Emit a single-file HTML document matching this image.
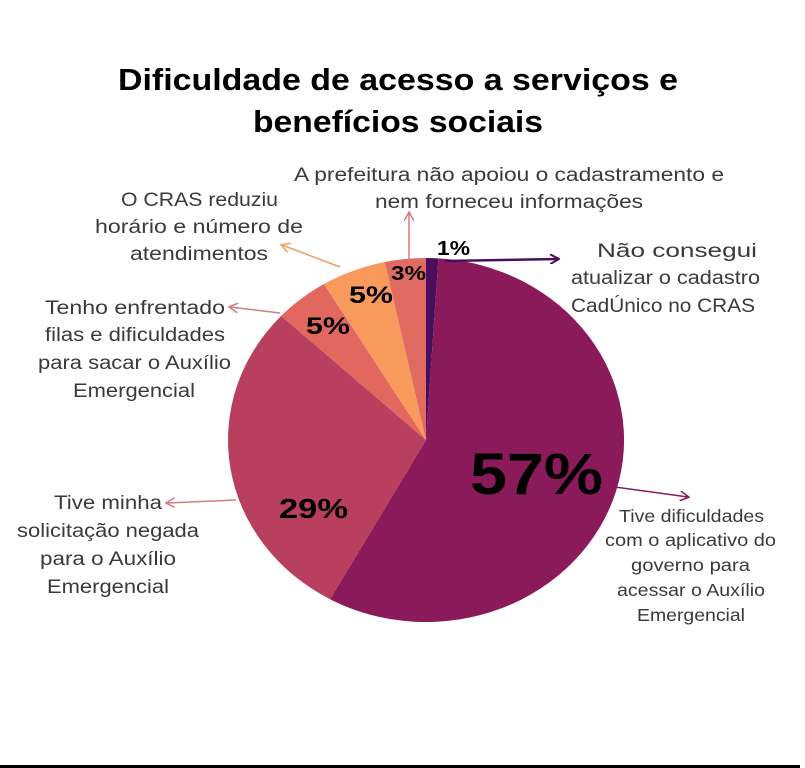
<!DOCTYPE html>
<html><head><meta charset="utf-8"><style>
html,body{margin:0;padding:0;background:#fff;}
svg{display:block;}
text{font-family:"Liberation Sans",sans-serif;}
.t{font-size:31px;font-weight:bold;fill:#000;}
.l{font-size:19px;fill:#3a3a3a;}
.s{font-size:17.5px;}
.p{font-weight:bold;fill:#000;}
</style></head><body>
<svg width="805" height="768" viewBox="0 0 805 768">
<defs>
<marker id="m1" markerWidth="10" markerHeight="10" refX="8" refY="5" orient="auto" markerUnits="userSpaceOnUse"><path d="M0,0 L9,5 L0,10" fill="none" stroke="#4a0e5c" stroke-width="2"/></marker>
<marker id="m2" markerWidth="10" markerHeight="10" refX="8" refY="5" orient="auto" markerUnits="userSpaceOnUse"><path d="M0,0 L9,5 L0,10" fill="none" stroke="#8b1a5b" stroke-width="1.5"/></marker>
<marker id="m3" markerWidth="10" markerHeight="10" refX="8" refY="5" orient="auto" markerUnits="userSpaceOnUse"><path d="M0,0 L9,5 L0,10" fill="none" stroke="#d97a80" stroke-width="1.5"/></marker>
<marker id="m4" markerWidth="10" markerHeight="10" refX="8" refY="5" orient="auto" markerUnits="userSpaceOnUse"><path d="M0,0 L9,5 L0,10" fill="none" stroke="#f79a5c" stroke-width="1.5"/></marker>
</defs>
<text class="t" x="118" y="90" textLength="560" lengthAdjust="spacingAndGlyphs">Dificuldade de acesso a serviços e</text>
<text class="t" x="253" y="132" textLength="290" lengthAdjust="spacingAndGlyphs">benefícios sociais</text>

<path d="M426,440 L426,258 A198,182 0 0 1 438.4,258.4 Z" fill="#4a0e5c"/>
<path d="M426,440 L438.4,258.4 A198,182 0 1 1 330,599.2 Z" fill="#8b1a5b"/>
<path d="M426,440 L330,599.2 A198,182 0 0 1 281.2,315.9 Z" fill="#b8405e"/>
<path d="M426,440 L281.2,315.9 A198,182 0 0 1 324,284 Z" fill="#e2685f"/>
<path d="M426,440 L324,284 A198,182 0 0 1 384.8,262 Z" fill="#f79a5c"/>
<path d="M426,440 L384.8,262 A198,182 0 0 1 426,258 Z" fill="#e06b60"/>

<text class="p" x="437" y="255" font-size="20" textLength="33" lengthAdjust="spacingAndGlyphs">1%</text>
<text class="p" x="391" y="280" font-size="20" textLength="35" lengthAdjust="spacingAndGlyphs">3%</text>
<text class="p" x="349" y="303" font-size="24" textLength="44" lengthAdjust="spacingAndGlyphs">5%</text>
<text class="p" x="306" y="334" font-size="24" textLength="44" lengthAdjust="spacingAndGlyphs">5%</text>
<text class="p" x="279" y="518" font-size="28" textLength="69" lengthAdjust="spacingAndGlyphs">29%</text>
<text class="p" x="470" y="494" font-size="58" textLength="133" lengthAdjust="spacingAndGlyphs">57%</text>

<line x1="445" y1="261" x2="558" y2="259" stroke="#4a0e5c" stroke-width="2.5" marker-end="url(#m1)"/>
<line x1="600" y1="485" x2="688" y2="497" stroke="#8b1a5b" stroke-width="1.5" marker-end="url(#m2)"/>
<line x1="236" y1="500" x2="167" y2="503" stroke="#d97a80" stroke-width="1.5" marker-end="url(#m3)"/>
<line x1="280" y1="313" x2="230" y2="307" stroke="#d97a80" stroke-width="1.5" marker-end="url(#m3)"/>
<line x1="340" y1="267" x2="282" y2="245" stroke="#f79a5c" stroke-width="1.5" marker-end="url(#m4)"/>
<line x1="409" y1="262" x2="409" y2="213" stroke="#d97a80" stroke-width="1.5" marker-end="url(#m3)"/>

<g class="l" lengthAdjust="spacingAndGlyphs">
<text x="294" y="181" textLength="430" lengthAdjust="spacingAndGlyphs">A prefeitura não apoiou o cadastramento e</text>
<text x="375" y="208" textLength="268" lengthAdjust="spacingAndGlyphs">nem forneceu informações</text>
<text x="121" y="206" textLength="157" lengthAdjust="spacingAndGlyphs">O CRAS reduziu</text>
<text x="95" y="233" textLength="208" lengthAdjust="spacingAndGlyphs">horário e número de</text>
<text x="130" y="260" textLength="138" lengthAdjust="spacingAndGlyphs">atendimentos</text>
<text x="45" y="314" textLength="180" lengthAdjust="spacingAndGlyphs">Tenho enfrentado</text>
<text x="45" y="341" textLength="180" lengthAdjust="spacingAndGlyphs">filas e dificuldades</text>
<text x="38" y="369" textLength="193" lengthAdjust="spacingAndGlyphs">para sacar o Auxílio</text>
<text x="73" y="397" textLength="122" lengthAdjust="spacingAndGlyphs">Emergencial</text>
<text x="54" y="509" textLength="108" lengthAdjust="spacingAndGlyphs">Tive minha</text>
<text x="17" y="537" textLength="182" lengthAdjust="spacingAndGlyphs">solicitação negada</text>
<text x="40" y="565" textLength="136" lengthAdjust="spacingAndGlyphs">para o Auxílio</text>
<text x="47" y="593" textLength="122" lengthAdjust="spacingAndGlyphs">Emergencial</text>
<text x="597" y="257" textLength="160" lengthAdjust="spacingAndGlyphs">Não consegui</text>
<text x="571" y="284" textLength="189" lengthAdjust="spacingAndGlyphs">atualizar o cadastro</text>
<text x="571" y="312" textLength="184" lengthAdjust="spacingAndGlyphs">CadÚnico no CRAS</text>
<text class="s" x="619" y="522" textLength="145" lengthAdjust="spacingAndGlyphs">Tive dificuldades</text>
<text class="s" x="605" y="546" textLength="171" lengthAdjust="spacingAndGlyphs">com o aplicativo do</text>
<text class="s" x="631" y="571" textLength="119" lengthAdjust="spacingAndGlyphs">governo para</text>
<text class="s" x="617" y="596" textLength="148" lengthAdjust="spacingAndGlyphs">acessar o Auxílio</text>
<text class="s" x="637" y="621" textLength="108" lengthAdjust="spacingAndGlyphs">Emergencial</text>
</g>
<rect x="0" y="765" width="800" height="3" fill="#000"/>
</svg>
</body></html>
